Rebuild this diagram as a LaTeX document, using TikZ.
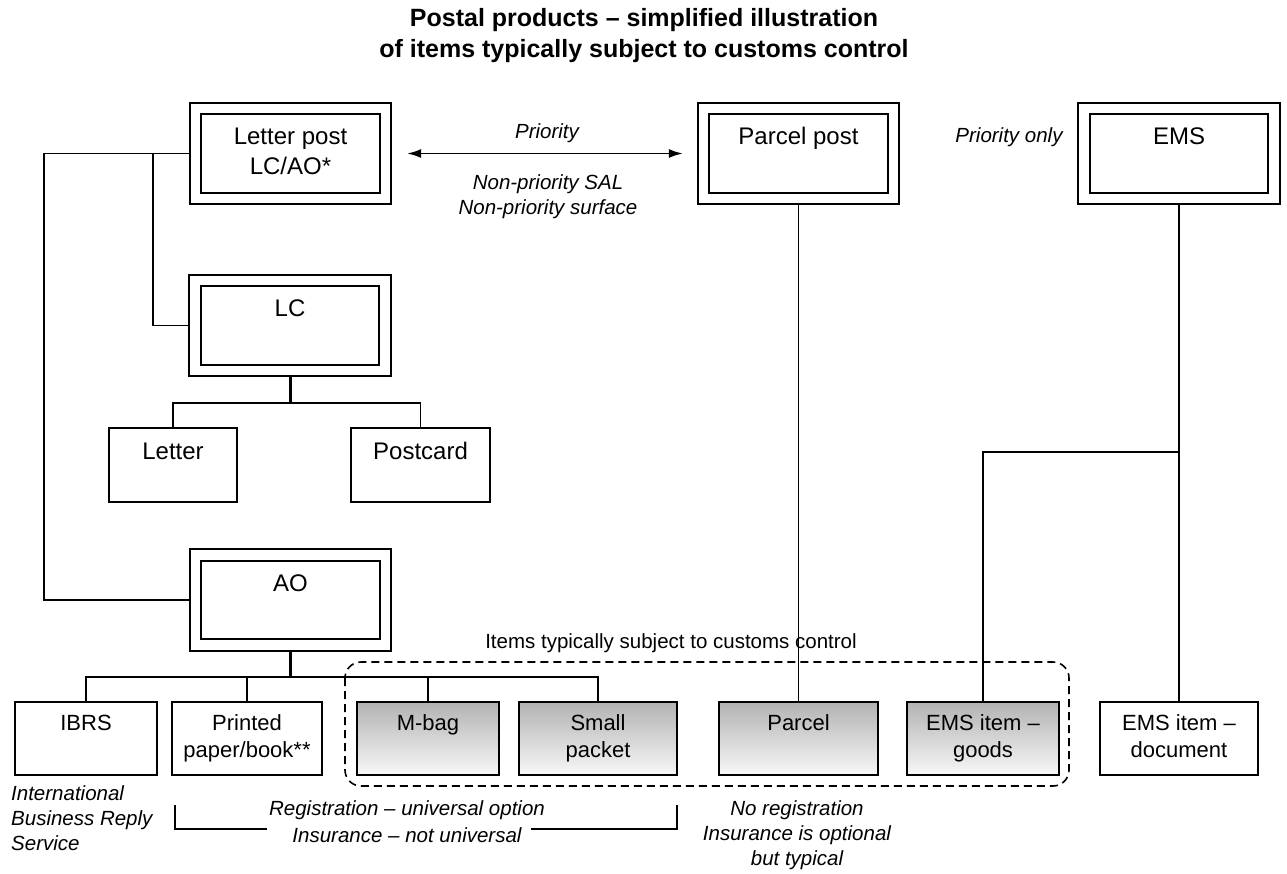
\documentclass[tikz,border=0pt]{standalone}
\usepackage{fontspec}
\setmainfont{Liberation Sans}
\usetikzlibrary{arrows.meta,positioning}
\tikzset{
    dbox/.style={draw, double, line width=1.8pt, double distance=9.8pt, minimum width=190pt,
        inner xsep=0pt, inner ysep=0pt, text height=36.2pt, text depth=53.8pt, outer sep=6.7pt,
        align=center, font=\fontsize{24}{30}\selectfont},
    dbox2/.style={dbox, text height=66.2pt, text depth=23.8pt},
    lbox/.style={draw, line width=1.8pt, inner xsep=0pt, inner ysep=0pt,
        text height=31pt, text depth=43pt, align=center, font=\fontsize{24}{30}\selectfont},
    ibox/.style={draw, line width=1.8pt, inner xsep=0pt, inner ysep=0pt,
        text height=28pt, text depth=45pt, align=center, font=\fontsize{22}{27}\selectfont},
    ibox2/.style={ibox, text height=55pt, text depth=18pt},
    sbox/.style={ibox, top color=black!30, bottom color=black!3},
    sbox2/.style={ibox2, top color=black!30, bottom color=black!3},
    conn/.style={line width=1.6pt},
    stem/.style={line width=3pt},
    biarrow/.style={{Latex[length=14pt,width=9pt]}-{Latex[length=14pt,width=9pt]}, line width=1.6pt},
    note/.style={anchor=base, inner sep=0pt, align=center, font=\fontsize{20.5}{25}\selectfont\itshape},
    grouptext/.style={anchor=base, inner sep=0pt, font=\fontsize{20.5}{25}\selectfont},
    titletext/.style={anchor=base, inner sep=0pt, align=center, font=\fontsize{25}{31}\selectfont\bfseries},
    custline/.style={line width=1.6pt, dash pattern=on 8pt off 5pt, rounded corners=16pt}
}

\begin{document}
\begin{tikzpicture}[x=1pt, y=-1pt]
    \useasboundingbox (0,0) rectangle (1287,873);

    % Title (base = last line)
    \node[titletext] (title) at (644,57) {Postal products – simplified illustration\\of items typically subject to customs control};

    % Top row: the three product groups
    \node[dbox2] (lp) at (290.5,153.5) {Letter post\\LC/AO*};
    \node[dbox] (pp) at (798.5,153.5) {Parcel post};
    \node[dbox] (ems) at (1179,153.5) {EMS};
    \draw[biarrow, shorten <=15pt, shorten >=14pt] (lp) -- (pp);
    \node[note] (prio) at (547,138) {Priority};
    \node[note] (nonprio) at (548,214) {Non-priority SAL\\Non-priority surface};
    \node[note] (emsprio) at (1009,142) {Priority only};

    % Letter post: LC and AO
    \node[dbox] (lc) at (290,325.5) {LC};
    \node[dbox] (ao) at (290.5,600) {AO};
    \draw[conn] (lp.west) -- ++(-145,0) |- (ao.west);
    \draw[conn] ([xshift=-36pt]lp.west) |- (lc.west);

    % LC items
    \node[lbox, minimum width=128pt] (letter) at (173,465) {Letter};
    \node[lbox, minimum width=139pt] (postcard) at (420.5,465) {Postcard};
    \draw[stem] (lc.south) -- ++(0,26) coordinate (lcj);
    \draw[conn] (letter.north) |- (lcj) -| (postcard.north);

    % Bottom row
    \node[ibox, minimum width=142pt] (ibrs) at (86,738.5) {IBRS};
    \node[ibox2, minimum width=150pt] (printed) at (247,738.5) {Printed\\paper/book**};
    \node[sbox, minimum width=142pt] (mbag) at (428,738.5) {M-bag};
    \node[sbox2, minimum width=158pt] (spkt) at (598,738.5) {Small\\packet};
    \node[sbox, minimum width=159pt] (parcel) at (798.5,738.5) {Parcel};
    \node[sbox2, minimum width=152pt] (emsgoods) at (983,738.5) {EMS item –\\goods};
    \node[ibox2, minimum width=158pt] (emsdoc) at (1179,738.5) {EMS item –\\document};

    % AO items
    \draw[stem] (ao.south) -- ++(0,25) coordinate (aoj);
    \draw[conn] (ibrs.north) |- (aoj) -| (spkt.north);
    \draw[conn] (printed.north) -- (printed.north |- aoj);
    \draw[conn] (mbag.north) -- (mbag.north |- aoj);

    % Parcel and EMS
    \draw[conn] (pp) -- (parcel);
    \coordinate (emsj) at (1179,452);
    \draw[stem, line width=2.4pt] (ems) -- (emsj);
    \draw[conn] (emsj) -- (emsdoc);
    \draw[conn] (emsgoods.north) |- (emsj);

    % Customs group
    \draw[custline] (345,662) rectangle (1069,786);
    \node[grouptext] (custom) at (671,648) {Items typically subject to customs control};

    % Notes under the boxes (base = last line)
    \node[note, anchor=base west, align=left] (ibrsnote) at (11,850) {International\\Business Reply\\Service};
    \node[note, font=\fontsize{20.5}{27}\selectfont\itshape] (regnote) at (407,842) {Registration – universal option\\Insurance – not universal};
    \coordinate (brl) at (175,805);
    \coordinate (brr) at (677,805);
    \draw[conn] (brl) -- ++(0,24) -- ++(92,0);
    \draw[conn] (brr) -- ++(0,24) -- ++(-146,0);
    \node[note] (parcelnote) at (797,865) {No registration\\Insurance is optional\\but typical};
\end{tikzpicture}
\end{document}
